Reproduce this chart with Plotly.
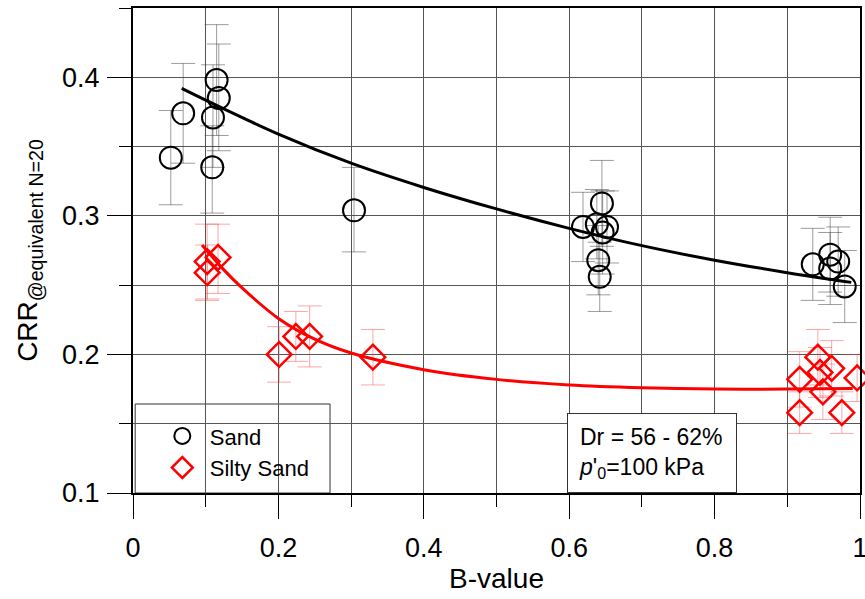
import plotly.graph_objects as go

# ---------------- data ----------------
sand_x = [0.052, 0.069, 0.115, 0.118, 0.110, 0.109, 0.304,
          0.619, 0.638, 0.652, 0.646, 0.645, 0.640, 0.642,
          0.935, 0.959, 0.970, 0.959, 0.979]
sand_y = [0.342, 0.374, 0.398, 0.385, 0.371, 0.335, 0.304,
          0.292, 0.294, 0.292, 0.288, 0.309, 0.268, 0.256,
          0.265, 0.272, 0.267, 0.262, 0.249]
sand_err_plus = [0.034, 0.036, 0.040, 0.039, 0.038, 0.030, 0.031,
                 0.025, 0.025, 0.026, 0.030, 0.031, 0.025, 0.025,
                 0.026, 0.027, 0.025, 0.026, 0.026]
sand_err_minus = [0.034, 0.036, 0.040, 0.038, 0.036, 0.033, 0.030,
                  0.025, 0.025, 0.026, 0.030, 0.031, 0.025, 0.025,
                  0.026, 0.027, 0.025, 0.026, 0.026]

silty_x = [0.102, 0.102, 0.117, 0.201, 0.224, 0.243, 0.330,
           0.942, 0.961, 0.945, 0.917, 0.949, 0.996, 0.917, 0.975]
silty_y = [0.267, 0.259, 0.270, 0.200, 0.213, 0.213, 0.198,
           0.198, 0.190, 0.187, 0.182, 0.173, 0.183, 0.158, 0.158]
silty_err_plus = [0.027, 0.020, 0.024, 0.020, 0.018, 0.022, 0.020,
                  0.020, 0.020, 0.018, 0.020, 0.020, 0.017, 0.015, 0.015]
silty_err_minus = [0.027, 0.020, 0.026, 0.020, 0.018, 0.022, 0.020,
                   0.020, 0.020, 0.018, 0.020, 0.020, 0.017, 0.015, 0.015]

# trend curves
sand_fit_x = [0.067, 0.1, 0.2, 0.3, 0.4, 0.5, 0.6, 0.7, 0.8, 0.9, 0.988]
sand_fit_y = [0.392, 0.3835, 0.359, 0.338, 0.3205, 0.305, 0.291, 0.2785, 0.268, 0.259, 0.252]
silty_fit_x = [0.095, 0.125, 0.15, 0.2, 0.25, 0.3, 0.4, 0.5, 0.6, 0.7, 0.8, 0.9, 0.99]
silty_fit_y = [0.279, 0.261, 0.248, 0.226, 0.211, 0.201, 0.189, 0.182, 0.178, 0.176, 0.175, 0.175, 0.1755]

x_ticks = [0, 0.2, 0.4, 0.6, 0.8, 1]
x_tick_text = ["0", "0.2", "0.4", "0.6", "0.8", "1"]
y_ticks = [0.1, 0.2, 0.3, 0.4]
y_tick_text = ["0.1", "0.2", "0.3", "0.4"]

FONT = "Liberation Sans, Arial, sans-serif"

fig = go.Figure()

fig.add_trace(go.Scatter(
    x=sand_x, y=sand_y, mode="markers", name="Sand",
    marker=dict(symbol="circle-open", size=22, color="black", line=dict(width=2, color="black")),
    error_y=dict(type="data", symmetric=False, array=sand_err_plus, arrayminus=sand_err_minus,
                 color="rgba(60,60,60,0.5)", thickness=1, width=12),
    cliponaxis=False,
))
fig.add_trace(go.Scatter(
    x=silty_x, y=silty_y, mode="markers", name="Silty Sand",
    marker=dict(symbol="diamond-open", size=19, color="red", line=dict(width=2.5, color="red")),
    error_y=dict(type="data", symmetric=False, array=silty_err_plus, arrayminus=silty_err_minus,
                 color="rgba(255,60,60,0.45)", thickness=1, width=12),
    cliponaxis=False,
))
fig.add_trace(go.Scatter(
    x=sand_fit_x, y=sand_fit_y, mode="lines", line=dict(color="black", width=3, shape="spline"),
    showlegend=False, hoverinfo="skip",
))
fig.add_trace(go.Scatter(
    x=silty_fit_x, y=silty_fit_y, mode="lines", line=dict(color="red", width=3, shape="spline"),
    showlegend=False, hoverinfo="skip",
))

fig.update_layout(
    width=865, height=599,
    margin=dict(l=133, r=5, t=8, b=106, autoexpand=False),
    paper_bgcolor="white", plot_bgcolor="white",
    font=dict(family=FONT, color="black"),
    showlegend=True,
    legend=dict(
        x=0.03, y=0.008, xanchor="left", yanchor="bottom",
        bgcolor="rgba(0,0,0,0)", borderwidth=0,
        font=dict(size=22, family=FONT),
        itemwidth=45, tracegroupgap=4,
    ),
)

# legend frame
fig.add_shape(type="rect", xref="paper", yref="paper",
              x0=0.003, x1=0.271, y0=0.0, y1=0.1835,
              line=dict(color="#333", width=1), fillcolor="white", layer="between")

fig.update_xaxes(
    range=[0, 1], tickmode="array", tickvals=x_ticks, ticktext=x_tick_text,
    ticks="outside", ticklen=24, tickwidth=1.2, tickcolor="black",
    tickfont=dict(size=27, family=FONT), ticklabelstandoff=6, ticklabeloverflow="allow",
    automargin=False,
    showline=True, linecolor="black", linewidth=2, mirror=True,
    showgrid=True, gridcolor="#555", gridwidth=1.2,
    minor=dict(dtick=0.1, tick0=0, ticks="outside", ticklen=12, tickwidth=1.2, tickcolor="black",
               showgrid=True, gridcolor="#555", gridwidth=1.2),
    zeroline=False,
    title=dict(text="B-value", font=dict(size=28, family=FONT), standoff=6),
)
fig.update_yaxes(
    range=[0.1, 0.45], tickmode="array", tickvals=y_ticks, ticktext=y_tick_text,
    ticks="outside", ticklen=24, tickwidth=1.2, tickcolor="black",
    tickfont=dict(size=27, family=FONT), ticklabelstandoff=2, ticklabeloverflow="allow",
    automargin=False,
    showline=True, linecolor="black", linewidth=2, mirror=True,
    showgrid=True, gridcolor="#555", gridwidth=1.2,
    minor=dict(dtick=0.05, tick0=0.1, ticks="outside", ticklen=12, tickwidth=1.2, tickcolor="black",
               showgrid=True, gridcolor="#555", gridwidth=1.2),
    zeroline=False,
    title=dict(text="CRR<sub>@equivalent N=20</sub>", font=dict(size=28, family=FONT), standoff=16),
)

fig.add_annotation(
    x=0.597, y=0.1, xref="x", yref="y", xanchor="left", yanchor="bottom",
    text="Dr = 56 - 62%<br><i>p</i>'<sub>0</sub>=100 kPa",
    showarrow=False, align="left", valign="middle",
    font=dict(size=23, family=FONT, color="black"),
    bgcolor="white", bordercolor="#333", borderwidth=1, borderpad=11,
    width=146, height=56,
)

fig.write_html("out.html")
